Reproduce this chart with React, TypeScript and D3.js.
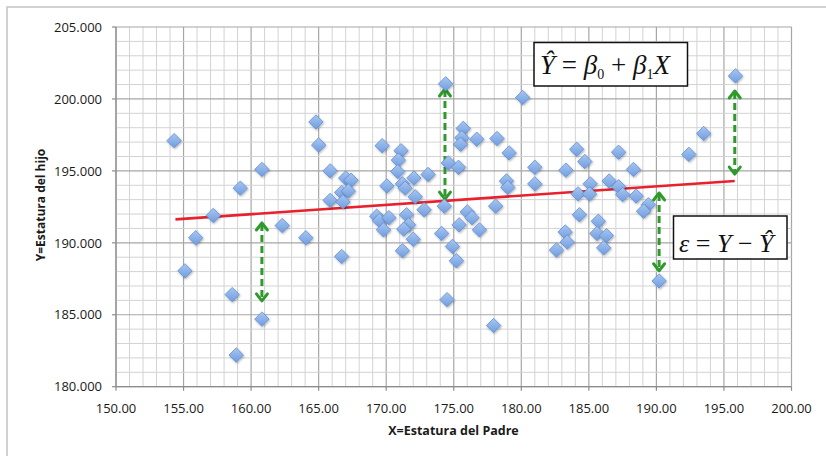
import React from 'react';
import * as d3 from 'd3';

// Father height (X) and son height (Y)
const fatherX = [
  154.3, 155.1, 155.9, 157.2, 158.6, 158.9, 159.2, 160.8, 160.8, 162.3,
  164.05, 164.8, 165.0, 165.85, 167.0, 167.4, 166.7, 167.2, 165.85, 166.8,
  166.7, 169.7, 171.1, 170.9, 170.85, 170.05, 171.2, 171.4, 172.05, 173.1,
  172.15, 172.8, 174.3, 174.4, 174.6, 175.35, 175.7, 175.6, 175.5, 176.7,
  178.2, 179.1, 180.1, 178.9, 179.0, 178.1, 176.0, 176.35, 175.4, 176.9,
  174.1, 174.9, 175.2, 174.5, 177.95, 169.3, 169.5, 170.2, 169.8, 171.5,
  171.65, 171.3, 172.0, 171.2, 181.0, 181.0, 183.3, 184.1, 184.7, 187.2,
  188.3, 185.1, 186.5, 184.2, 185.05, 187.2, 187.5, 188.5, 189.4, 189.05,
  184.3, 185.7, 183.25, 185.6, 186.3, 183.4, 182.6, 186.1, 190.2, 192.4,
  193.5, 195.85,
];
const sonY = [
  197.1, 188.05, 190.35, 191.9, 186.4, 182.2, 193.8, 195.1, 184.7, 191.2,
  190.35, 198.4, 196.8, 195.0, 194.5, 194.35, 193.5, 193.6, 192.95, 192.85,
  189.05, 196.75, 196.4, 195.75, 194.95, 193.95, 194.1, 193.8, 194.5, 194.75,
  193.2, 192.3, 192.55, 201.05, 195.55, 195.25, 197.95, 197.3, 196.85, 197.2,
  197.25, 196.25, 200.1, 194.3, 193.85, 192.55, 192.15, 191.75, 191.25, 190.9,
  190.65, 189.75, 188.75, 186.05, 184.25, 191.85, 191.55, 191.75, 190.9, 191.95,
  191.25, 190.95, 190.25, 189.45, 195.25, 194.1, 195.05, 196.5, 195.65, 196.3,
  195.1, 194.1, 194.3, 193.4, 193.4, 193.9, 193.35, 193.25, 192.65, 192.2,
  191.95, 191.5, 190.75, 190.65, 190.5, 190.05, 189.5, 189.65, 187.35, 196.15,
  197.6, 201.6,
];

// Fitted regression line (endpoints)
const fitX = [154.4, 195.8];
const fitY = [191.63, 194.3];

// Residual arrows
const arrowX = [160.8, 174.35, 190.2, 195.8];
const arrowTop = [191.45, 200.76, 193.53, 200.62];
const arrowBottom = [185.9, 192.97, 187.99, 194.71];

const xTicks = [150, 155, 160, 165, 170, 175, 180, 185, 190, 195, 200];
const yTicks = [180, 185, 190, 195, 200, 205];

export default function App() {
  const W = 826;
  const H = 456;
  const x = d3.scaleLinear().domain([150, 200]).range([116, 791.5]);
  const y = d3.scaleLinear().domain([180, 205]).range([386.7, 27]);
  const minorX = d3.range(150, 201, 1);
  const minorY = d3.range(180, 206, 1);
  const fmtY = d3.format('.3f');
  const fmtX = d3.format('.2f');
  const line = d3.line<number>().x((d, i) => x(fitX[i])).y((d) => y(d));
  const green = '#2f9a2c';
  const diamond = 'M0,-7.2L7.2,0L0,7.2L-7.2,0Z';

  return (
    <svg width={W} height={H} style={{ position: 'absolute', left: 0, top: 0, background: '#fff' }}>
      <defs>
        <linearGradient id="dg" x1="0" y1="0" x2="0" y2="1">
          <stop offset="0" stopColor="#a9c6f0" />
          <stop offset="1" stopColor="#6f9ddf" />
        </linearGradient>
        <filter id="sh" x="-50%" y="-50%" width="200%" height="200%">
          <feDropShadow dx="0.8" dy="1.2" stdDeviation="0.8" floodColor="#000" floodOpacity="0.3" />
        </filter>
      </defs>
      <rect x={0} y={0} width={W} height={H} fill="#fff" />
      <rect x={7} y={7} width={W + 20} height={H + 20} fill="none" stroke="#c4c4c4" strokeWidth={1.5} />

      {/* grid */}
      {minorX.map((v) => (
        <line key={'mx' + v} x1={x(v)} x2={x(v)} y1={y(205)} y2={y(180)} stroke={v % 5 === 0 ? '#a6a6a6' : '#d3d3d3'} strokeWidth={v % 5 === 0 ? 1.2 : 1} />
      ))}
      {minorY.map((v) => (
        <line key={'my' + v} x1={x(150)} x2={x(200)} y1={y(v)} y2={y(v)} stroke={v % 5 === 0 ? '#a6a6a6' : '#d3d3d3'} strokeWidth={v % 5 === 0 ? 1.2 : 1} />
      ))}

      {/* axes */}
      <line x1={x(150)} x2={x(150)} y1={y(205)} y2={y(180)} stroke="#8c8c8c" strokeWidth={1.2} />
      <line x1={x(150)} x2={x(200)} y1={y(180)} y2={y(180)} stroke="#8c8c8c" strokeWidth={1.2} />
      {xTicks.map((v) => (
        <line key={'xt' + v} x1={x(v)} x2={x(v)} y1={y(180)} y2={y(180) + 4} stroke="#8c8c8c" strokeWidth={1.2} />
      ))}
      {yTicks.map((v) => (
        <line key={'yt' + v} x1={x(150) - 4} x2={x(150)} y1={y(v)} y2={y(v)} stroke="#8c8c8c" strokeWidth={1.2} />
      ))}

      {/* tick labels */}
      {xTicks.map((v) => (
        <text key={'xl' + v} x={x(v)} y={412.5} textAnchor="middle" fontFamily="'Open Sans', sans-serif" fontSize={13} fill="#1a1a1a">
          {fmtX(v)}
        </text>
      ))}
      {yTicks.map((v) => (
        <text key={'yl' + v} x={102} y={y(v)} dy="0.36em" textAnchor="end" fontFamily="'Open Sans', sans-serif" fontSize={13} fill="#1a1a1a">
          {fmtY(v)}
        </text>
      ))}

      {/* axis titles */}
      <text x={453.5} y={435} textAnchor="middle" fontFamily="'Open Sans', sans-serif" fontWeight="bold" fontSize={12.5} fill="#1a1a1a">
        X=Estatura del Padre
      </text>
      <text transform="translate(45,205) rotate(-90)" textAnchor="middle" fontFamily="'Open Sans', sans-serif" fontWeight="bold" fontSize={12} fill="#1a1a1a">
        Y=Estatura del hijo
      </text>

      {/* regression line */}
      <path d={line(fitY) || ''} fill="none" stroke="#e8212e" strokeWidth={2.6} />

      {/* residual arrows */}
      {arrowX.map((v, i) => {
        const px = x(v);
        const t = y(arrowTop[i]);
        const b = y(arrowBottom[i]);
        return (
          <g key={'ar' + i} stroke={green} fill="none" strokeWidth={3}>
            <line x1={px} x2={px} y1={t + 2} y2={b - 2} strokeDasharray="7,4" />
            <path d={`M${px - 5.5},${t + 8}L${px},${t + 1}L${px + 5.5},${t + 8}`} strokeLinecap="round" strokeLinejoin="round" />
            <path d={`M${px - 5.5},${b - 8}L${px},${b - 1}L${px + 5.5},${b - 8}`} strokeLinecap="round" strokeLinejoin="round" />
          </g>
        );
      })}

      {/* points */}
      {fatherX.map((v, i) => (
        <path key={'p' + i} d={diamond} transform={`translate(${x(v)},${y(sonY[i])})`} fill="url(#dg)" stroke="#5f8fd6" strokeWidth={0.8} filter="url(#sh)" />
      ))}

      {/* equation boxes */}
      <rect x={534} y={42.5} width={153.5} height={43.5} fill="#fff" stroke="#111" strokeWidth={1.5} />
      <text x={540} y={74} fontFamily="'Liberation Serif', 'Times New Roman', serif" fontSize={27} fill="#111">
        <tspan fontStyle="italic">Ŷ</tspan>
        <tspan> = </tspan>
        <tspan fontStyle="italic">β</tspan>
        <tspan fontSize={14} dy={5}>0</tspan>
        <tspan dy={-5}> + </tspan>
        <tspan fontStyle="italic">β</tspan>
        <tspan fontSize={14} dy={5}>1</tspan>
        <tspan fontStyle="italic" dy={-5}>X</tspan>
      </text>
      <rect x={673.5} y={216} width={113.5} height={43} fill="#fff" stroke="#111" strokeWidth={1.5} />
      <text x={679} y={251.5} fontFamily="'Liberation Serif', 'Times New Roman', serif" fontSize={26} fill="#111">
        <tspan fontStyle="italic">ε</tspan>
        <tspan> = </tspan>
        <tspan fontStyle="italic">Y</tspan>
        <tspan> − </tspan>
        <tspan fontStyle="italic">Ŷ</tspan>
      </text>
    </svg>
  );
}
